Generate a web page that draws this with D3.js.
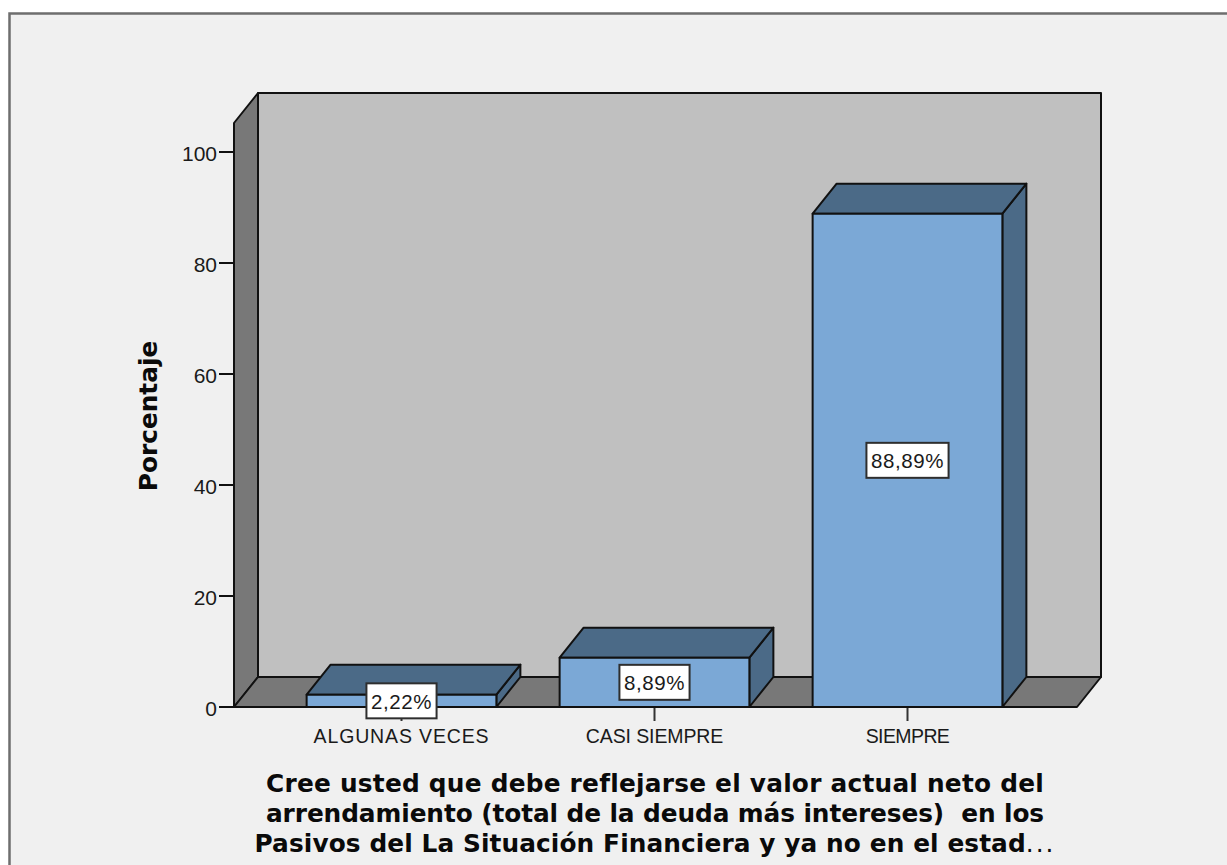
<!DOCTYPE html>
<html>
<head>
<meta charset="utf-8">
<script src="https://cdn.jsdelivr.net/npm/d3@7"></script>
<style>
html, body { margin: 0; padding: 0; background: #fff; }
svg { display: block; }
text { font-family: "Liberation Sans", Arial, sans-serif; fill: #1a1a1a; white-space: pre; }
.axis-title { font-family: "DejaVu Sans", Verdana, sans-serif; font-weight: bold; fill: #0a0a0a; }
</style>
</head>
<body>
<svg id="chart" width="1227" height="865"></svg>
<script>
const categories = ["ALGUNAS VECES", "CASI SIEMPRE", "SIEMPRE"];
const percentages = [2.22, 8.89, 88.89];
const yTicks = [0, 20, 40, 60, 80, 100];
const yAxisTitle = "Porcentaje";
const xAxisTitleLines = [
  "Cree usted que debe reflejarse el valor actual neto del",
  "arrendamiento (total de la deuda más intereses)  en los",
  "Pasivos del La Situación Financiera y ya no en el estad"
];

const colors = {
  panel: "#f0f0f0", frame: "#6e6e6e", wall: "#c0c0c0", side: "#787878",
  barFront: "#7ba8d6", barShade: "#4b6a87", ink: "#111111"
};

const svg = d3.select("#chart");
const depth = { dx: 24, dy: -30 };
const plot = { left: 234, right: 1077, floor: 707, top: 123 };

const y = d3.scaleLinear().domain([0, 100]).range([plot.floor, 152]);
const x = d3.scaleBand().domain(categories).range([275, 1034])
  .paddingInner(0.25).paddingOuter(0.125);
const comma = d3.formatLocale({ decimal: ",", thousands: ".", grouping: [3], currency: ["", ""] });
const pct = v => comma.format(".2f")(v) + "%";

const poly = (g, pts, fill) => g.append("polygon")
  .attr("points", pts.map(p => p.join(",")).join(" "))
  .attr("fill", fill)
  .attr("stroke", colors.ink)
  .attr("stroke-width", 2)
  .attr("stroke-linejoin", "round");

// Chart panel with its frame along the top and left edges
svg.append("rect").attr("x", 9).attr("y", 13).attr("width", 1218).attr("height", 852)
  .attr("fill", colors.panel);
svg.append("path").attr("d", "M9.5,865V13.5H1227")
  .attr("fill", "none").attr("stroke", colors.frame).attr("stroke-width", 2.5);

// Box of the 3D plot area: back wall, left wall, floor
const box = svg.append("g");
const L = plot.left, R = plot.right, F = plot.floor, T = plot.top;
const { dx, dy } = depth;
poly(box, [[L + dx, T + dy], [R + dx, T + dy], [R + dx, F + dy], [L + dx, F + dy]], colors.wall);
poly(box, [[L, T], [L + dx, T + dy], [L + dx, F + dy], [L, F]], colors.side);
poly(box, [[L, F], [L + dx, F + dy], [R + dx, F + dy], [R, F]], colors.side);

// Y axis ticks and labels
const yAxis = svg.append("g");
yAxis.selectAll("line").data(yTicks).join("line")
  .attr("x1", L - 15).attr("x2", L)
  .attr("y1", d => y(d)).attr("y2", d => y(d))
  .attr("stroke", colors.ink).attr("stroke-width", 2);
yAxis.selectAll("text").data(yTicks).join("text")
  .attr("x", L - 17).attr("y", d => y(d) + 8.5)
  .attr("text-anchor", "end").attr("font-size", 21)
  .text(d => d);

// X axis ticks and category labels
const labelTracking = { "ALGUNAS VECES": 0.85, "CASI SIEMPRE": -0.1, "SIEMPRE": -0.6 };
const xAxis = svg.append("g");
xAxis.selectAll("line").data(categories).join("line")
  .attr("x1", d => x(d) + x.bandwidth() / 2).attr("x2", d => x(d) + x.bandwidth() / 2)
  .attr("y1", F).attr("y2", F + 14)
  .attr("stroke", "#333").attr("stroke-width", 2);
xAxis.selectAll("text").data(categories).join("text")
  .attr("x", d => x(d) + x.bandwidth() / 2).attr("y", 743)
  .attr("text-anchor", "middle").attr("font-size", 19.5)
  .attr("letter-spacing", d => labelTracking[d])
  .text(d => d);

// Bars: right side, top face, then front face
const bars = svg.append("g");
categories.forEach((c, i) => {
  const x0 = x(c), x1 = x0 + x.bandwidth(), top = y(percentages[i]);
  poly(bars, [[x1, top], [x1 + dx, top + dy], [x1 + dx, F + dy], [x1, F]], colors.barShade);
  poly(bars, [[x0, top], [x0 + dx, top + dy], [x1 + dx, top + dy], [x1, top]], colors.barShade);
  poly(bars, [[x0, top], [x1, top], [x1, F], [x0, F]], colors.barFront);
});

// Value labels in white boxes at the middle of each bar, sized to their text
const labels = svg.append("g");
categories.forEach((c, i) => {
  const cx = x(c) + x.bandwidth() / 2, cy = y(percentages[i] / 2);
  const box = labels.append("rect");
  const label = labels.append("text")
    .attr("x", cx).attr("y", cy + 8)
    .attr("text-anchor", "middle").attr("font-size", 20.5).attr("letter-spacing", 0.6)
    .text(pct(percentages[i]));
  const w = label.node().getComputedTextLength() + 9, h = 35;
  box.attr("x", cx - w / 2).attr("y", cy - h / 2).attr("width", w).attr("height", h)
    .attr("fill", "#fff").attr("stroke", "#2e2e2e").attr("stroke-width", 2);
});

// Axis titles
const titleSize = 24.8;
svg.append("text").attr("class", "axis-title")
  .attr("transform", "translate(157,416) rotate(-90)")
  .attr("text-anchor", "middle").attr("font-size", titleSize)
  .text(yAxisTitle);

const titleCenter = 655;
const titleBaselines = [792, 822, 852];
const titleTracking = [0.24, -0.09, 0.1];
xAxisTitleLines.forEach((line, i) => {
  const t = svg.append("text").attr("class", "axis-title")
    .attr("x", titleCenter).attr("y", titleBaselines[i])
    .attr("text-anchor", "middle").attr("font-size", titleSize)
    .attr("letter-spacing", titleTracking[i]);
  t.append("tspan").text(line);
  if (i === 2) t.append("tspan").attr("font-weight", "normal").attr("letter-spacing", 2).text("...");
});
</script>
</body>
</html>
